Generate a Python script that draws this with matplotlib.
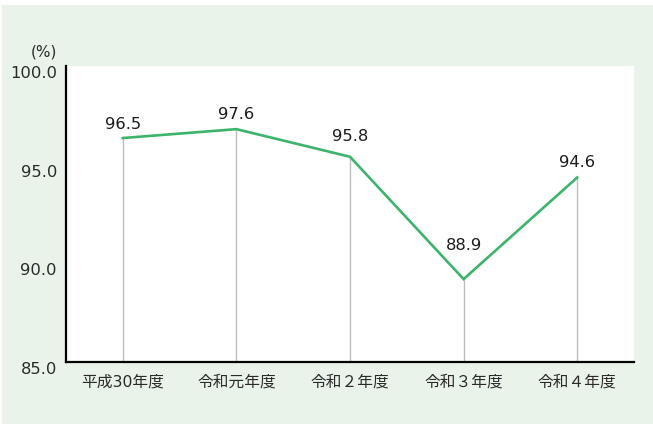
import matplotlib
matplotlib.use("Agg")
import matplotlib.pyplot as plt
from matplotlib.patches import Rectangle

# data
years = ["平成30年度", "令和元年度", "令和２年度", "令和３年度", "令和４年度"]
rates = [96.35, 96.8, 95.4, 89.2, 94.35]  # plotted positions as drawn
rate_labels = ["96.5", "97.6", "95.8", "88.9", "94.6"]
y_ticks = [85.0, 90.0, 95.0, 100.0]

# style
label_offsets_px = [14, 15, 20, 34, 15]
line_color = "#3db36b"
panel_color = "#e9f3ea"
fonts = ["DejaVu Sans", "Noto Sans CJK JP"]

plt.rcParams["font.family"] = fonts

fig = plt.figure(figsize=(6.53, 4.26), dpi=100, facecolor="white")
fig.patches.append(
    Rectangle((2 / 653, 2 / 426), 651 / 653, 419 / 426,
              transform=fig.transFigure, facecolor=panel_color,
              edgecolor="none", zorder=-10)
)

ax = fig.add_axes([66 / 653, 1 - 362 / 426, 568 / 653, 296 / 426])
ax.set_facecolor("white")

x = list(range(len(years)))
ax.vlines(x, 85, rates, color="#bdbdbd", linewidth=1.0, zorder=1)
ax.plot(x, rates, color=line_color, linewidth=1.9, zorder=3,
        solid_joinstyle="miter")

for xi, v, lab, off in zip(x, rates, rate_labels, label_offsets_px):
    ax.annotate(lab, (xi, v), xytext=(0, off * 0.72), textcoords="offset points",
                ha="center", va="center", fontsize=11.8, color="#1a1a1a")

ax.set_xlim(-0.5, len(years) - 0.5)
ax.set_ylim(85, 100)
ax.set_yticks(y_ticks)
ax.set_yticklabels([f"{t:.1f}" for t in y_ticks], fontsize=11.8, color="#2a2a2a")
ax.set_xticks(x)
ax.set_xticklabels(years, fontsize=11.3, color="#2a2a2a")
ax.tick_params(axis="y", length=0, pad=6.5)
ax.tick_params(axis="x", length=0, pad=9)
for lbl in ax.get_yticklabels():
    lbl.set_va("top")

for s in ["top", "right"]:
    ax.spines[s].set_visible(False)
for s in ["left", "bottom"]:
    ax.spines[s].set_color("black")
    ax.spines[s].set_linewidth(1.6)

fig.text(57 / 653, 1 - 52 / 426, "(%)", ha="right", va="center",
         fontsize=11, color="#2a2a2a")

fig.savefig("out.png", dpi=100, facecolor="white")
